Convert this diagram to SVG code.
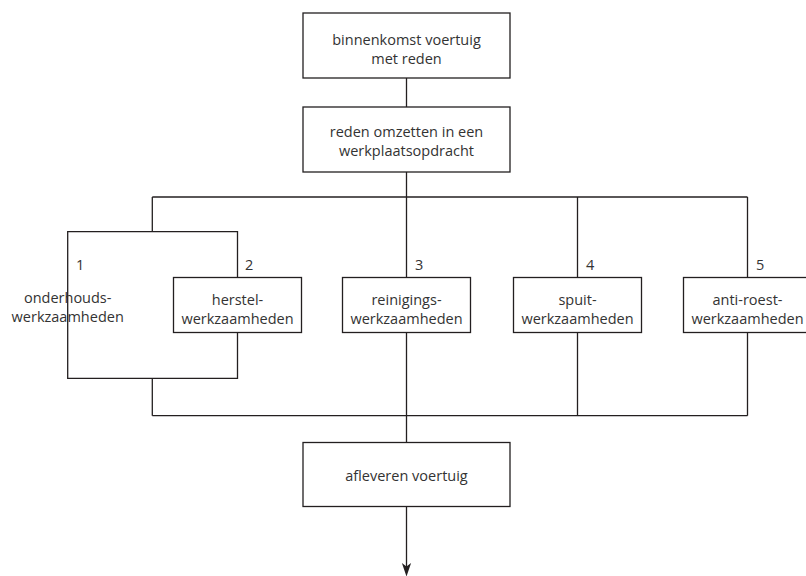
<svg xmlns="http://www.w3.org/2000/svg" width="806" height="576" viewBox="0 0 806 576">
<style>
  .ln { fill: none; stroke: #231f20; stroke-width: 1.3; }
  .box { fill: #ffffff; stroke: #231f20; stroke-width: 1.3; }
  .head { fill: #231f20; }
  text { font-family: "Open Sans", "Liberation Sans", sans-serif; font-size: 14.5px; fill: #333333; }
  .c { text-anchor: middle; }
</style>
<rect x="0" y="0" width="806" height="576" fill="#ffffff"/>
<g id="connectors">
  <line class="ln" x1="406.5" y1="78" x2="406.5" y2="107"/>
  <line class="ln" x1="406.5" y1="172" x2="406.5" y2="442.5"/>
  <line class="ln" x1="152.3" y1="197" x2="747.5" y2="197"/>
  <line class="ln" x1="152.3" y1="197" x2="152.3" y2="231.7"/>
  <path class="ln" d="M67.7,231.7 H237.5 V378.3 H67.7 Z"/>
  <line class="ln" x1="152.3" y1="378.3" x2="152.3" y2="415.7"/>
  <line class="ln" x1="152.3" y1="415.7" x2="747.5" y2="415.7"/>
  <line class="ln" x1="577.5" y1="197" x2="577.5" y2="415.7"/>
  <line class="ln" x1="747.5" y1="197" x2="747.5" y2="415.7"/>
  <line class="ln" x1="406.5" y1="506.5" x2="406.5" y2="567"/>
  <path class="head" d="M406.5,576.5 L401.9,563 L406.5,566.5 L411.1,563 Z"/>
</g>
<g id="n-binnenkomst">
  <rect class="box" x="303" y="13" width="207" height="65"/>
  <text class="c" x="406.5" y="45">binnenkomst voertuig</text>
  <text class="c" x="406.5" y="63.5">met reden</text>
</g>
<g id="n-reden">
  <rect class="box" x="303" y="107" width="207" height="65"/>
  <text class="c" x="406.5" y="137">reden omzetten in een</text>
  <text class="c" x="406.5" y="155.5">werkplaatsopdracht</text>
</g>
<g id="n-onderhoud">
  <text x="76" y="270">1</text>
  <text class="c" x="67.7" y="303">onderhouds-</text>
  <text class="c" x="67.7" y="321.5">werkzaamheden</text>
</g>
<g id="n-herstel">
  <text x="245" y="270">2</text>
  <rect class="box" x="173.5" y="277.5" width="128" height="55"/>
  <text class="c" x="237.5" y="305">herstel-</text>
  <text class="c" x="237.5" y="323.5">werkzaamheden</text>
</g>
<g id="n-reiniging">
  <text x="415" y="270">3</text>
  <rect class="box" x="342.5" y="277.5" width="128" height="55"/>
  <text class="c" x="406.5" y="305">reinigings-</text>
  <text class="c" x="406.5" y="323.5">werkzaamheden</text>
</g>
<g id="n-spuit">
  <text x="586" y="270">4</text>
  <rect class="box" x="513.5" y="277.5" width="128" height="55"/>
  <text class="c" x="577.5" y="305">spuit-</text>
  <text class="c" x="577.5" y="323.5">werkzaamheden</text>
</g>
<g id="n-antiroest">
  <text x="756" y="270">5</text>
  <rect class="box" x="683.5" y="277.5" width="128" height="55"/>
  <text class="c" x="747.5" y="305">anti-roest-</text>
  <text class="c" x="747.5" y="323.5">werkzaamheden</text>
</g>
<g id="n-afleveren">
  <rect class="box" x="303" y="442.5" width="207" height="64"/>
  <text class="c" x="406.5" y="481">afleveren voertuig</text>
</g>
</svg>
